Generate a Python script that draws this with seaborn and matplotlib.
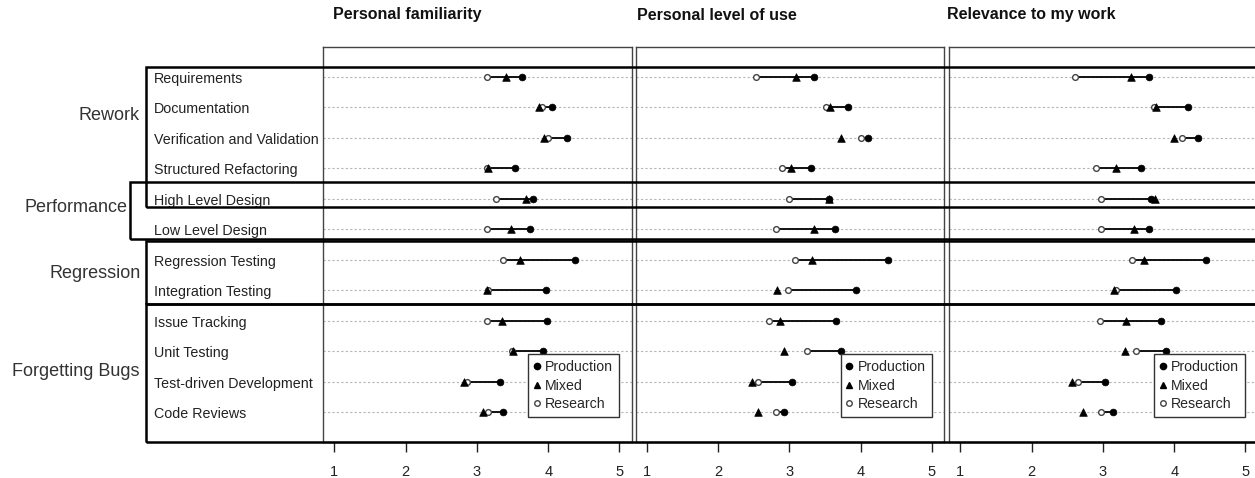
import numpy as np
import pandas as pd
import matplotlib
matplotlib.use("Agg")
import matplotlib.pyplot as plt
import matplotlib.transforms as mtransforms
from matplotlib.lines import Line2D
from matplotlib.patches import Rectangle
import seaborn as sns

sns.set_style("white")
plt.rcParams["font.family"] = ["Liberation Sans", "DejaVu Sans"]

techniques = ["Requirements", "Documentation", "Verification and Validation",
              "Structured Refactoring", "High Level Design", "Low Level Design",
              "Regression Testing", "Integration Testing", "Issue Tracking",
              "Unit Testing", "Test-driven Development", "Code Reviews"]
group_names = ["Rework", "Performance", "Regression", "Forgetting Bugs"]
panels = ["Personal familiarity", "Personal level of use", "Relevance to my work"]
kinds = ["Production", "Mixed", "Research"]

fam_production = [3.63, 4.05, 4.26, 3.53, 3.78, 3.75, 4.37, 3.97, 3.98, 3.92, 3.32, 3.36]
fam_mixed = [3.41, 3.87, 3.94, 3.16, 3.69, 3.48, 3.61, 3.14, 3.35, 3.51, 2.82, 3.08]
fam_research = [3.14, 3.91, 4.00, 3.14, 3.27, 3.14, 3.36, 3.16, 3.14, 3.49, 2.86, 3.16]

use_production = [3.35, 3.83, 4.10, 3.30, 3.56, 3.64, 4.39, 3.94, 3.65, 3.72, 3.04, 2.93]
use_mixed = [3.10, 3.57, 3.72, 3.03, 3.55, 3.35, 3.32, 2.83, 2.87, 2.92, 2.47, 2.56]
use_research = [2.53, 3.52, 4.00, 2.90, 3.00, 2.81, 3.08, 2.98, 2.72, 3.25, 2.56, 2.82]

rel_production = [3.65, 4.19, 4.34, 3.53, 3.67, 3.65, 4.45, 4.03, 3.82, 3.89, 3.03, 3.14]
rel_mixed = [3.40, 3.75, 4.00, 3.18, 3.73, 3.43, 3.58, 3.16, 3.32, 3.31, 2.57, 2.72]
rel_research = [2.61, 3.71, 4.11, 2.90, 2.97, 2.97, 3.41, 3.18, 2.96, 3.46, 2.65, 2.98]

values = {
    panels[0]: [fam_production, fam_mixed, fam_research],
    panels[1]: [use_production, use_mixed, use_research],
    panels[2]: [rel_production, rel_mixed, rel_research],
}

rows = []
for p in panels:
    for k, vals in zip(kinds, values[p]):
        for i, (t, v) in enumerate(zip(techniques, vals)):
            rows.append(dict(panel=p, technique=t, row=i + 1, kind=k, value=v))
df = pd.DataFrame(rows)

W, H = 1255, 478
fig = plt.figure(figsize=(W / 100, H / 100), dpi=100)


def fx(x):
    return x / W


def fy(y):
    return 1 - y / H


ax_lefts = [323.3, 635.7, 949.3]
ax_w = 308.6
ax_top, ax_bot = 47.3, 441.7
axes = [fig.add_axes([fx(l), fy(ax_bot), ax_w / W, (ax_bot - ax_top) / H]) for l in ax_lefts]

for ax, p in zip(axes, panels):
    sub = df[df.panel == p]
    wide = sub.pivot(index="row", columns="kind", values="value")
    for r in range(1, len(techniques) + 1):
        ax.axhline(r, color="#b5b5b5", lw=0.8, ls=(0, (2, 2)), zorder=1)
    ax.hlines(wide.index, wide["Research"], wide["Production"], color="black", lw=1.3, zorder=2)
    sns.scatterplot(data=sub[sub.kind == "Research"], x="value", y="row", marker="o", s=17,
                    color="white", edgecolor="#444444", linewidth=1.0, ax=ax, zorder=3, legend=False)
    sns.scatterplot(data=sub[sub.kind == "Mixed"], x="value", y="row", marker="^", s=30,
                    color="black", edgecolor="black", linewidth=0.5, ax=ax, zorder=4, legend=False)
    sns.scatterplot(data=sub[sub.kind == "Production"], x="value", y="row", marker="o", s=24,
                    color="black", edgecolor="black", linewidth=0.5, ax=ax, zorder=5, legend=False)
    ax.set_xlim(0.845, 5.174)
    ax.set_ylim(12.964, 0.036)
    ax.set_xticks([1, 2, 3, 4, 5])
    ax.set_yticks([])
    ax.set_xlabel("")
    ax.set_ylabel("")
    ax.tick_params(axis="x", bottom=True, length=7, width=1, color="#222222",
                   labelsize=10.5, labelcolor="#222222", pad=10)
    for s in ax.spines.values():
        s.set_color("#444444")
        s.set_linewidth(1.0)
    handles = [
        Line2D([], [], marker="o", ls="", color="black", markersize=4.5),
        Line2D([], [], marker="^", ls="", color="black", markersize=5),
        Line2D([], [], marker="o", ls="", mfc="white", mec="#444444", markersize=4),
    ]
    leg = ax.legend(handles, kinds, loc="lower right", bbox_to_anchor=(5.0, 12.16),
                    bbox_transform=ax.transData, fontsize=10.2, frameon=True, fancybox=False,
                    edgecolor="#333333", framealpha=1, borderpad=0.45, labelspacing=0.3,
                    handlelength=0.35, handletextpad=0.4, borderaxespad=0)
    leg.get_frame().set_linewidth(1.0)
    leg.set_zorder(20)

# technique labels next to the first panel
blend = mtransforms.blended_transform_factory(fig.transFigure, axes[0].transData)
for i, t in enumerate(techniques):
    fig.text(fx(154.3), i + 1.07, t, transform=blend, ha="left", va="center",
             fontsize=10.3, color="#222222")

# group labels
group_label_pos = [(140, 116), (127.7, 207), (140.7, 273.5), (140, 371)]
for g, (x, y) in zip(group_names, group_label_pos):
    fig.text(fx(x), fy(y), g, ha="right", va="center", fontsize=13, color="#333333")

# group boxes
group_boxes = [(145.7, 66.7, 207.3), (130, 181.7, 239.3), (145.7, 240.5, 304), (145.7, 304, 442)]
for x0, y0, y1 in group_boxes:
    fig.add_artist(Rectangle((fx(x0), fy(y1)), fx(1265 - x0), (y1 - y0) / H, fill=False,
                             edgecolor="black", lw=1.8, transform=fig.transFigure,
                             clip_on=False, zorder=10))

# panel titles
title_x = [333, 637, 947]
for p, x in zip(panels, title_x):
    fig.text(fx(x), fy(15), p, ha="left", va="center", fontsize=11.5,
             fontweight="bold", color="#111111")

fig.savefig("out.png", dpi=100)
